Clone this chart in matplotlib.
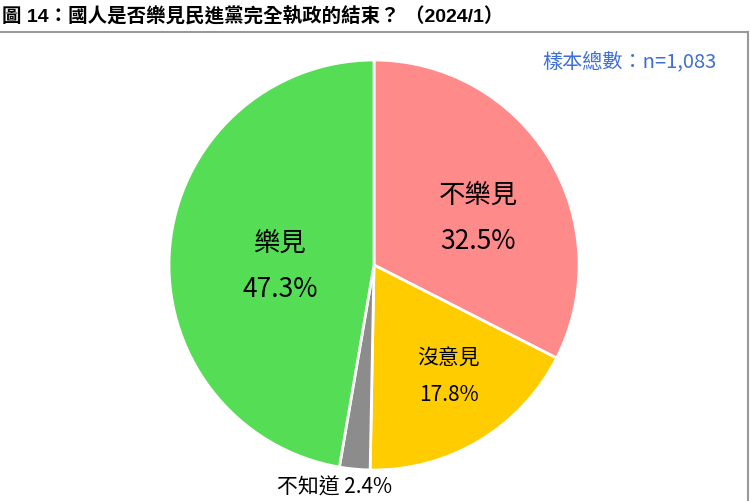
import matplotlib
matplotlib.use("Agg")
import matplotlib.pyplot as plt
from matplotlib.lines import Line2D

plt.rcParams['font.family'] = ['Noto Sans CJK TC', 'DejaVu Sans']

# data
labels = ['不樂見', '沒意見', '不知道', '樂見']
values = [32.5, 17.8, 2.4, 47.3]
colors = ['#FF8A8A', '#FFCC00', '#8C8C8C', '#55DD55']
title = '圖 14：國人是否樂見民進黨完全執政的結束？ （2024/1）'
sample_note = '樣本總數：n=1,083'

fig = plt.figure(figsize=(7.5, 5.02), dpi=100)

# frame lines (top rule + right edge)
fig.add_artist(Line2D([0, 0.997], [0.934, 0.934], transform=fig.transFigure,
                      color='#999999', lw=1.5))
fig.add_artist(Line2D([0.997, 0.997], [0, 0.934], transform=fig.transFigure,
                      color='#999999', lw=1.5))

fig.text(0.002, 0.967, title, fontsize=14, fontweight='bold', va='center',
         family=['Liberation Sans', 'Noto Sans CJK TC'])
fig.text(0.955, 0.877, sample_note, fontsize=14.5, color='#3D6FD6',
         ha='right', va='center')

ax = fig.add_axes([169 / 750, 31 / 502, 410 / 750, 410 / 502])
ax.pie(values, colors=colors, startangle=90, counterclock=False, radius=1,
       wedgeprops=dict(edgecolor='white', linewidth=2))
ax.set_xlim(-1, 1)
ax.set_ylim(-1, 1)
ax.set_aspect('equal')
ax.axis('off')


def px(x, y):
    # reference pixel position -> pie data coords
    return (x - 374) / 205, (266 - y) / 205


ax.text(*px(478, 195), labels[0], fontsize=19, ha='center', va='center')
ax.text(*px(478, 242), f'{values[0]}%', fontsize=19, ha='center', va='center')
ax.text(*px(280, 243), labels[3], fontsize=19, ha='center', va='center')
ax.text(*px(280, 290), f'{values[3]}%', fontsize=19, ha='center', va='center')
ax.text(*px(449, 358), labels[1], fontsize=15, ha='center', va='center')
ax.text(*px(449, 395), f'{values[1]}%', fontsize=15, ha='center', va='center')
ax.text(*px(335, 488), f'{labels[2]} {values[2]}%', fontsize=15,
        ha='center', va='center', clip_on=False)

fig.savefig('out.png', dpi=100)
